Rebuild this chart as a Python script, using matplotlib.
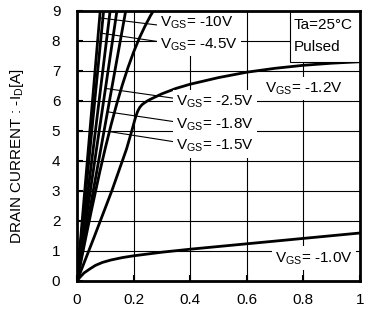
import numpy as np
import matplotlib
matplotlib.use("Agg")
import matplotlib.pyplot as plt
from matplotlib.patches import Rectangle

plt.rcParams['font.family'] = ['Liberation Sans', 'DejaVu Sans']
plt.rcParams['mathtext.fontset'] = 'custom'
plt.rcParams['mathtext.rm'] = 'Liberation Sans'

#-- Drain-source voltage -VDS [V] and drain current -ID [A]
vds_10v0 = [0.0, 0.082]
id_10v0 = [0.0, 9.0]
vds_4v5 = [0.0, 0.094]
id_4v5 = [0.0, 9.0]
vds_unlab = [0.0, 0.117]
id_unlab = [0.0, 9.0]
vds_2v5 = [0.0, 0.141]
id_2v5 = [0.0, 9.0]
vds_1v8 = [0.0, 0.172]
id_1v8 = [0.0, 9.0]
vds_1v5 = [0.0, 0.03, 0.05, 0.08, 0.10, 0.12, 0.14, 0.16, 0.18, 0.20, 0.22, 0.24, 0.26, 0.28]
id_1v5 = [0.0, 1.40, 2.31, 3.62, 4.43, 5.19, 5.89, 6.53, 7.11, 7.63, 8.09, 8.49, 8.85, 9.15]
vds_1v2 = [0.0, 0.06, 0.124, 0.175, 0.195, 0.203, 0.209, 0.215, 0.222, 0.23, 0.24, 0.25, 0.26,
           0.28, 0.30, 0.35, 0.40, 0.50, 0.60, 0.70, 0.80, 0.90, 1.00]
id_1v2 = [0.0, 1.45, 3.03, 4.40, 5.05, 5.33, 5.52, 5.67, 5.79, 5.88, 5.95, 6.01, 6.06,
          6.15, 6.24, 6.42, 6.56, 6.78, 6.96, 7.09, 7.19, 7.26, 7.31]
vds_1v0 = [0.0, 0.01, 0.025, 0.045, 0.065, 0.09, 0.12, 0.16, 0.20, 0.30, 0.40,
           0.50, 0.60, 0.70, 0.80, 0.90, 1.00]
id_1v0 = [0.0, 0.12, 0.27, 0.40, 0.52, 0.62, 0.70, 0.78, 0.84, 0.96, 1.06,
          1.15, 1.24, 1.33, 1.42, 1.51, 1.60]

x_ticks = [0, 0.2, 0.4, 0.6, 0.8, 1]
x_ticklabels = ['0', '0.2', '0.4', '0.6', '0.8', '1']
y_ticks = [0, 1, 2, 3, 4, 5, 6, 7, 8, 9]

curves = [(vds_10v0, id_10v0), (vds_4v5, id_4v5), (vds_unlab, id_unlab),
          (vds_2v5, id_2v5), (vds_1v8, id_1v8), (vds_1v5, id_1v5),
          (vds_1v2, id_1v2), (vds_1v0, id_1v0)]

FS = 11

fig = plt.figure(figsize=(3.65, 3.2), dpi=100)
ax = fig.add_axes([77/365, 1-281/320, 283/365, 270/320])

for vds, idr in curves:
    ax.plot(vds, idr, color='black', lw=2.0, zorder=3, solid_capstyle='butt')

ax.set_xlim(0, 1)
ax.set_ylim(0, 9)
ax.set_xticks(x_ticks)
ax.set_xticklabels(x_ticklabels)
ax.set_yticks(y_ticks)
ax.grid(True, color='black', lw=0.8, zorder=1)
ax.set_axisbelow(True)
for s in ax.spines.values():
    s.set_linewidth(2.0)
    s.set_zorder(7)
ax.tick_params(axis='both', direction='in', length=4, width=1.5, labelsize=FS)
ax.tick_params(axis='y', pad=12)
ax.tick_params(axis='x', pad=9)

fig.text(17/365, 1-156/320, r'DRAIN CURRENT : -I$_\mathregular{D}$[A]', rotation=90,
         ha='center', va='center', fontsize=FS)

#-- labels: (text, curve the leader points to, y on curve, text x, text y, leader end y)
box = dict(boxstyle='square,pad=0.22', fc='white', ec='none')
leaders = [
    ('-10V', (vds_10v0, id_10v0), 8.77, 0.293, 8.60, 8.53),
    ('-4.5V', (vds_4v5, id_4v5), 8.26, 0.293, 7.88, 7.98),
    ('-2.5V', (vds_2v5, id_2v5), 6.42, 0.350, 5.98, 6.09),
    ('-1.8V', (vds_1v8, id_1v8), 5.64, 0.350, 5.22, 5.31),
    ('-1.5V', (vds_1v5, id_1v5), 4.98, 0.350, 4.50, 4.64),
]
for txt, (vds, idr), yc, tx, ty, ly in leaders:
    xc = np.interp(yc, idr, vds)
    ax.plot([xc, tx - 0.006], [yc, ly], color='black', lw=0.8, zorder=2)
    ax.text(tx, ty, r'V$_\mathregular{GS}$= ' + txt, ha='left', va='center',
            fontsize=FS, bbox=box, zorder=5)

ax.text(0.664, 6.42, r'V$_\mathregular{GS}$= -1.2V', ha='left', va='center',
        fontsize=FS, bbox=box, zorder=5)
ax.text(0.700, 0.76, r'V$_\mathregular{GS}$= -1.0V', ha='left', va='center',
        fontsize=FS, bbox=box, zorder=5)

#-- condition box in the upper right corner
ax.add_patch(Rectangle((0.753, 0.811), 0.247, 0.189, transform=ax.transAxes,
                       fc='white', ec='black', lw=0.8, zorder=6))
ax.text(0.767, 8.53, 'Ta=25°C', ha='left', va='center', fontsize=FS, zorder=6)
ax.text(0.767, 7.79, 'Pulsed', ha='left', va='center', fontsize=FS, zorder=6)

fig.savefig('out.png', dpi=100)
